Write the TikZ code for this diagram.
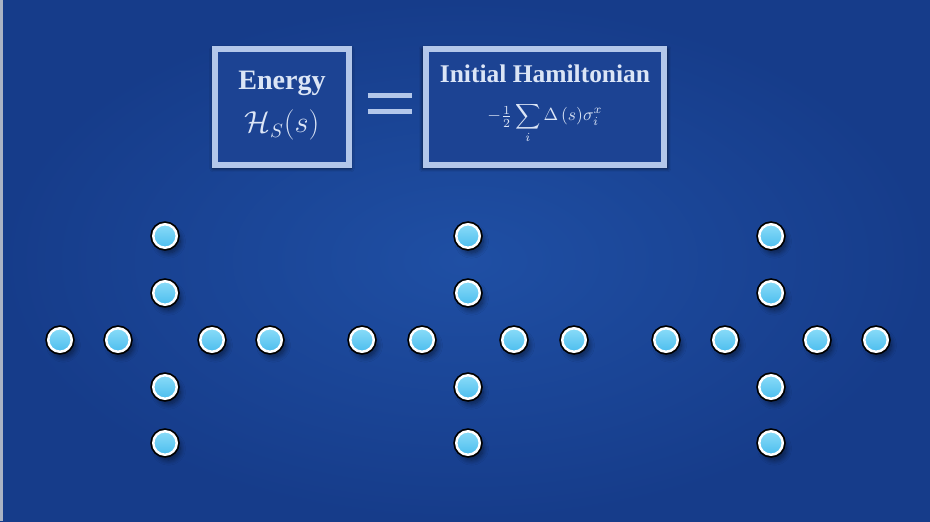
\documentclass[tikz,border=0pt]{standalone}
\usepackage{fontspec}
\setmainfont{Liberation Serif}
\usepackage{amsmath}
\usetikzlibrary{positioning, calc, shadows.blur}
\definecolor{bgcentre}{HTML}{1f4fa4}
\definecolor{bgedge}{HTML}{163c8a}
\definecolor{boxfill}{HTML}{1c4393}
\definecolor{boxrim}{HTML}{b3c7ea}
\definecolor{labelwhite}{HTML}{dbe5f6}
\definecolor{qubittop}{HTML}{8adcf8}
\definecolor{qubitbot}{HTML}{4cbdee}
\definecolor{framegrey}{HTML}{aab3c4}
\tikzset{
  eqbox/.style={rectangle, draw=boxrim, fill=boxfill, line width=3.4pt,
                minimum height=2.32cm, inner sep=0pt,
                blur shadow={shadow xshift=0pt, shadow yshift=-1pt,
                             shadow scale=1.03, shadow opacity=60}},
  boxtitle/.style={anchor=base, text=labelwhite, font=\fontsize{16}{19}\selectfont\bfseries},
  boxmath/.style={anchor=center, text=labelwhite, font=\fontsize{10}{12}\selectfont},
  eqbar/.style={draw=boxrim, line width=0.1cm},
  qubit/.style={circle, minimum size=0.47cm, inner sep=0pt,
                top color=qubittop, bottom color=qubitbot,
                draw=white, line width=1.4pt,
                preaction={draw=black, line width=3.4pt},
                blur shadow={shadow xshift=2pt, shadow yshift=-3pt,
                             shadow opacity=50, shadow blur steps=8,
                             shadow blur radius=3pt}},
}
\begin{document}
\begin{tikzpicture}

  % --- backdrop ---
  \useasboundingbox (0,0) rectangle (18.6,10.42);
  \shade[inner color=bgcentre, outer color=bgedge] (0,0) rectangle (18.6,10.42);
  \fill[framegrey] (0,0) rectangle (0.06,10.42);

  % --- equation on top ---
  \node[eqbox, minimum width=2.68cm] (energy) at (5.64,8.28) {};
  \node[eqbox, minimum width=4.76cm] (hamil) at (10.90,8.28) {};

  \node[boxtitle] (energylab) at ([yshift=0.34cm]energy.center) {Energy};
  \node[boxtitle, anchor=base, font=\fontsize{16}{19}\selectfont] (energymath)
       at ([yshift=-0.52cm]energy.center) {$\mathcal{H}_S(s)$};
  \node[boxtitle, font=\fontsize{14.5}{17}\selectfont\bfseries] (hamillab)
       at ([yshift=0.48cm]hamil.center) {Initial Hamiltonian};
  \node[boxmath] (hamilmath) at ([yshift=-0.32cm]hamil.center)
       {$\displaystyle-\tfrac{1}{2}\sum_{i}\Delta\,(s)\sigma_i^x$};

  \draw[eqbar] ([xshift=0.32cm, yshift=0.23cm]energy.east) -- ++(0.88,0);
  \draw[eqbar] ([xshift=0.32cm, yshift=-0.09cm]energy.east) -- ++(0.88,0);

  % --- three crosses of qubits ---
  \coordinate (ca) at (3.30,3.62);
  \coordinate (cb) at (9.36,3.62);
  \coordinate (cc) at (15.42,3.62);

  \node[qubit] (a-n2) at ([yshift=2.08cm]ca) {};
  \node[qubit] (a-n1) at ([yshift=0.94cm]ca) {};
  \node[qubit] (a-s1) at ([yshift=-0.94cm]ca) {};
  \node[qubit] (a-s2) at ([yshift=-2.06cm]ca) {};
  \node[qubit] (a-w2) at ([xshift=-2.10cm]ca) {};
  \node[qubit] (a-w1) at ([xshift=-0.94cm]ca) {};
  \node[qubit] (a-e1) at ([xshift=0.94cm]ca) {};
  \node[qubit] (a-e2) at ([xshift=2.10cm]ca) {};

  \node[qubit] (b-n2) at ([yshift=2.08cm]cb) {};
  \node[qubit] (b-n1) at ([yshift=0.94cm]cb) {};
  \node[qubit] (b-s1) at ([yshift=-0.94cm]cb) {};
  \node[qubit] (b-s2) at ([yshift=-2.06cm]cb) {};
  \node[qubit] (b-w2) at ([xshift=-2.12cm]cb) {};
  \node[qubit] (b-w1) at ([xshift=-0.92cm]cb) {};
  \node[qubit] (b-e1) at ([xshift=0.92cm]cb) {};
  \node[qubit] (b-e2) at ([xshift=2.12cm]cb) {};

  \node[qubit] (c-n2) at ([yshift=2.08cm]cc) {};
  \node[qubit] (c-n1) at ([yshift=0.94cm]cc) {};
  \node[qubit] (c-s1) at ([yshift=-0.94cm]cc) {};
  \node[qubit] (c-s2) at ([yshift=-2.06cm]cc) {};
  \node[qubit] (c-w2) at ([xshift=-2.10cm]cc) {};
  \node[qubit] (c-w1) at ([xshift=-0.92cm]cc) {};
  \node[qubit] (c-e1) at ([xshift=0.92cm]cc) {};
  \node[qubit] (c-e2) at ([xshift=2.10cm]cc) {};

\end{tikzpicture}
\end{document}
